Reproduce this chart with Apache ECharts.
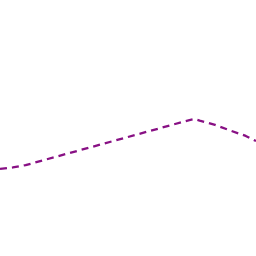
<!DOCTYPE html>
<html>
<head>
<meta charset="utf-8">
<script src="https://cdn.jsdelivr.net/npm/echarts@6/dist/echarts.min.js"></script>
<style>html,body{margin:0;padding:0;background:#fff;}#c{width:256px;height:256px;}</style>
</head>
<body>
<div id="c"></div>
<script>
const xValues = [0, 0.5, 1, 7.4, 7.6, 7.8, 8.4, 9, 9.6, 10];
const yValues = [34.0, 34.6, 35.5, 53.1, 53.5, 52.9, 51.2, 49.0, 46.9, 44.9];
const xMin = 0, xMax = 10;
const yMin = 0, yMax = 100;

const seriesData = xValues.map((x, i) => [x, yValues[i]]);

const chart = echarts.init(document.getElementById('c'), null, {renderer: 'canvas'});
chart.setOption({
  animation: false,
  backgroundColor: '#ffffff',
  grid: {left: 0, right: 0, top: 0, bottom: 0, containLabel: false},
  xAxis: {type: 'value', min: xMin, max: xMax, show: false},
  yAxis: {type: 'value', min: yMin, max: yMax, show: false},
  series: [{
    type: 'line',
    data: seriesData,
    smooth: false,
    symbol: 'none',
    clip: false,
    lineStyle: {color: '#881084', width: 2.3, type: [7, 5]}
  }]
});
</script>
</body>
</html>
